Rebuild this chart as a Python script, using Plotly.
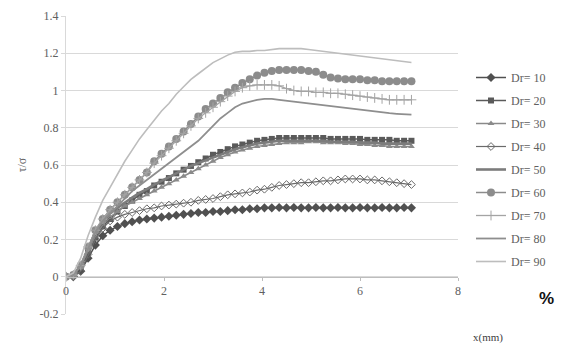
import plotly.graph_objects as go

x_mm = [0, 0.15, 0.3, 0.45, 0.6, 0.75, 0.9, 1.05, 1.2, 1.35, 1.5, 1.65, 1.8, 1.95,
        2.1, 2.25, 2.4, 2.55, 2.7, 2.85, 3.0, 3.15, 3.3, 3.45, 3.6, 3.75, 3.9, 4.05,
        4.2, 4.35, 4.5, 4.65, 4.8, 4.95, 5.1, 5.25, 5.4, 5.55, 5.7, 5.85, 6.0, 6.15,
        6.3, 6.45, 6.6, 6.75, 6.9, 7.05]

dr10 = [0, 0, 0.03, 0.1, 0.17, 0.22, 0.25, 0.27, 0.285, 0.295, 0.305, 0.31, 0.315, 0.32,
        0.325, 0.33, 0.335, 0.34, 0.345, 0.345, 0.35, 0.35, 0.355, 0.36, 0.36, 0.365, 0.365, 0.37,
        0.37, 0.372, 0.37, 0.372, 0.37, 0.37, 0.372, 0.37, 0.37, 0.372, 0.37, 0.37, 0.372, 0.37,
        0.37, 0.372, 0.37, 0.37, 0.372, 0.37]
dr20 = [0, 0.01, 0.05, 0.13, 0.21, 0.27, 0.31, 0.35, 0.38, 0.41, 0.44, 0.46, 0.49, 0.51,
        0.53, 0.555, 0.575, 0.595, 0.615, 0.635, 0.655, 0.67, 0.685, 0.7, 0.71, 0.72, 0.73, 0.735,
        0.74, 0.745, 0.745, 0.745, 0.745, 0.745, 0.745, 0.745, 0.74, 0.74, 0.74, 0.74, 0.74, 0.735,
        0.735, 0.735, 0.735, 0.73, 0.73, 0.73]
dr30 = [0, 0.01, 0.06, 0.14, 0.22, 0.28, 0.32, 0.35, 0.38, 0.4, 0.42, 0.44, 0.46, 0.48,
        0.5, 0.52, 0.54, 0.56, 0.58, 0.6, 0.62, 0.64, 0.655, 0.67, 0.68, 0.69, 0.7, 0.705,
        0.71, 0.715, 0.72, 0.72, 0.72, 0.725, 0.725, 0.72, 0.72, 0.72, 0.715, 0.715, 0.71, 0.71,
        0.705, 0.705, 0.7, 0.7, 0.7, 0.7]
dr40 = [0, 0, 0.03, 0.12, 0.2, 0.26, 0.3, 0.32, 0.335, 0.345, 0.355, 0.365, 0.37, 0.38,
        0.385, 0.39, 0.395, 0.4, 0.41, 0.415, 0.42, 0.43, 0.44, 0.445, 0.45, 0.455, 0.465, 0.47,
        0.48, 0.49, 0.495, 0.5, 0.505, 0.505, 0.51, 0.515, 0.515, 0.52, 0.525, 0.525, 0.525, 0.52,
        0.52, 0.515, 0.51, 0.505, 0.5, 0.495]
dr50 = [0, 0.01, 0.06, 0.15, 0.24, 0.3, 0.34, 0.37, 0.4, 0.425, 0.45, 0.47, 0.495, 0.515,
        0.535, 0.555, 0.575, 0.595, 0.61, 0.625, 0.64, 0.655, 0.67, 0.685, 0.695, 0.705, 0.715, 0.72,
        0.725, 0.73, 0.73, 0.73, 0.73, 0.73, 0.73, 0.73, 0.725, 0.725, 0.725, 0.725, 0.72, 0.72,
        0.72, 0.715, 0.715, 0.715, 0.715, 0.715]
dr60 = [0, 0.01, 0.06, 0.16, 0.25, 0.31, 0.36, 0.4, 0.44, 0.48, 0.52, 0.56, 0.62, 0.66,
        0.7, 0.74, 0.78, 0.82, 0.86, 0.9, 0.93, 0.96, 0.99, 1.015, 1.04, 1.06, 1.08, 1.095,
        1.105, 1.11, 1.11, 1.11, 1.11, 1.105, 1.1, 1.085, 1.07, 1.065, 1.06, 1.06, 1.06, 1.055,
        1.055, 1.05, 1.05, 1.05, 1.05, 1.05]
dr70 = [0, 0.01, 0.06, 0.16, 0.25, 0.31, 0.36, 0.4, 0.44, 0.48, 0.52, 0.56, 0.61, 0.65,
        0.69, 0.73, 0.77, 0.81, 0.85, 0.88, 0.91, 0.94, 0.97, 0.995, 1.015, 1.025, 1.03, 1.03,
        1.03, 1.025, 1.01, 1.0, 0.995, 0.995, 0.99, 0.99, 0.985, 0.985, 0.98, 0.975, 0.97, 0.965,
        0.96, 0.955, 0.95, 0.95, 0.95, 0.95]
dr80 = [0, 0.01, 0.06, 0.15, 0.24, 0.3, 0.34, 0.38, 0.42, 0.46, 0.49, 0.52, 0.55, 0.58,
        0.61, 0.64, 0.67, 0.7, 0.73, 0.77, 0.81, 0.85, 0.88, 0.91, 0.93, 0.94, 0.95, 0.955,
        0.955, 0.95, 0.945, 0.94, 0.935, 0.93, 0.925, 0.92, 0.915, 0.91, 0.905, 0.9, 0.895, 0.89,
        0.885, 0.88, 0.878, 0.875, 0.872, 0.87]
dr90 = [0, 0.02, 0.1, 0.22, 0.32, 0.41, 0.48, 0.55, 0.62, 0.68, 0.74, 0.79, 0.84, 0.89,
        0.93, 0.98, 1.02, 1.06, 1.09, 1.12, 1.15, 1.17, 1.19, 1.205, 1.21, 1.21, 1.215, 1.215,
        1.22, 1.225, 1.225, 1.225, 1.225, 1.22, 1.215, 1.21, 1.205, 1.2, 1.195, 1.19, 1.185, 1.18,
        1.175, 1.17, 1.165, 1.16, 1.155, 1.15]

names = ["Dr= 10", "Dr= 20", "Dr= 30", "Dr= 40", "Dr= 50", "Dr= 60", "Dr= 70", "Dr= 80", "Dr= 90"]
series = [dr10, dr20, dr30, dr40, dr50, dr60, dr70, dr80, dr90]

styles = [
    dict(color="#505050", width=1.5, marker=dict(symbol="diamond", size=7)),
    dict(color="#5a5a5a", width=1.5, marker=dict(symbol="square", size=6)),
    dict(color="#8a8a8a", width=1.5, marker=dict(symbol="triangle-up", size=6)),
    dict(color="#6a6a6a", width=1.2, marker=dict(symbol="diamond-open", size=6, line=dict(width=1))),
    dict(color="#7c7c7c", width=2.6, marker=None),
    dict(color="#8c8c8c", width=1.5, marker=dict(symbol="circle", size=8)),
    dict(color="#a4a4a4", width=1.3, marker=dict(symbol="cross-thin-open", size=7, line=dict(width=1))),
    dict(color="#8e8e8e", width=1.8, marker=None),
    dict(color="#bdbdbd", width=1.6, marker=None),
]

serif = "Liberation Serif, DejaVu Serif, serif"
OFF = 8  # default page body margin
W, H = 568 - OFF, 347 - OFF
L, R, T, B = 66 - OFF, 110, 16 - OFF, 33

fig = go.Figure()
for i, (nm, ys, st) in enumerate(zip(names, series, styles)):
    if st["marker"] is None:
        mode = "lines"
        mk = None
    else:
        mode = "lines+markers"
        mk = dict(st["marker"])
        mk["color"] = st["color"]
        if "line" in mk:
            mk["line"] = dict(width=mk["line"]["width"], color=st["color"])
    fig.add_trace(go.Scatter(x=x_mm, y=ys, name=nm, mode=mode,
                             line=dict(color=st["color"], width=st["width"]),
                             marker=mk, legendgroup=f"g{i}"))

def px_to_paper(px, py):
    # px, py in reference-picture pixels
    return (px - OFF - L) / (W - L - R), (H - B - (py - OFF)) / (H - T - B)

lx, ly = px_to_paper(471, 63)
fig.update_layout(
    width=W, height=H,
    paper_bgcolor="white", plot_bgcolor="white",
    margin=dict(l=L, r=R, t=T, b=B, autoexpand=False),
    font=dict(family=serif, size=12, color="#606060"),
    showlegend=True,
    legend=dict(x=lx, y=ly, xanchor="left", yanchor="top",
                font=dict(family=serif, size=12, color="#606060"),
                tracegroupgap=4, itemwidth=30, bgcolor="rgba(0,0,0,0)"),
    xaxis=dict(range=[0, 8], tickvals=[0, 2, 4, 6, 8], showgrid=False, zeroline=False,
               showline=True, linecolor="#bdbdbd", linewidth=1, automargin=False,
               anchor="free", position=0.125, ticks="outside", ticklen=3,
               tickcolor="#bdbdbd", tickfont=dict(family=serif, size=12, color="#606060")),
    yaxis=dict(range=[-0.2, 1.4], tickvals=[-0.2, 0, 0.2, 0.4, 0.6, 0.8, 1, 1.2, 1.4],
               ticktext=["-0.2", "0", "0.2", "0.4", "0.6", "0.8", "1", "1.2", "1.4"],
               showgrid=True, gridcolor="#d9d9d9", gridwidth=1, zeroline=False,
               showline=True, linecolor="#d9d9d9", ticks="outside", ticklen=4,
               tickcolor="#d9d9d9", automargin=False,
               title=dict(text="τ/σ", font=dict(family=serif, size=12, color="#606060"), standoff=10),
               tickfont=dict(family=serif, size=12, color="#606060")),
)

ax, ay = px_to_paper(488, 337)
fig.add_annotation(x=ax, y=ay, xref="paper", yref="paper", text="x(mm)", showarrow=False,
                   xanchor="center", yanchor="middle",
                   font=dict(family=serif, size=11, color="#404040"))
ax, ay = px_to_paper(546, 298)
fig.add_annotation(x=ax, y=ay, xref="paper", yref="paper", text="<b>%</b>", showarrow=False,
                   xanchor="center", yanchor="middle",
                   font=dict(family="Liberation Sans, Arial, sans-serif", size=17, color="#111111"))

fig.write_html("out.html")
